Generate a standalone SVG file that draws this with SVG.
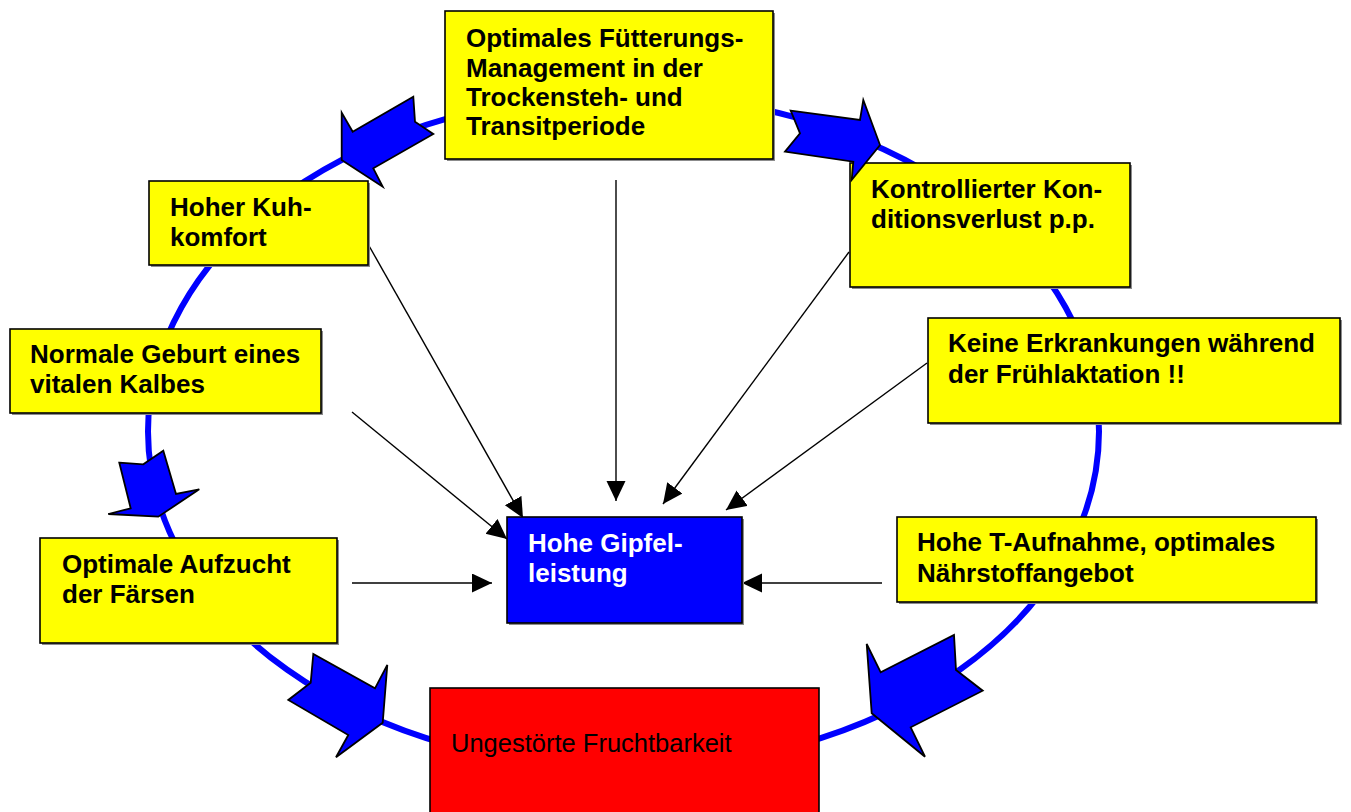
<svg xmlns="http://www.w3.org/2000/svg" width="1351" height="812" viewBox="0 0 1351 812">
<style>
.box{stroke:#000;stroke-width:1.6}
.sh{fill:#8c8c8c}
.y{fill:#FFFF00}
.t{font-family:"Liberation Sans",Arial,sans-serif;font-size:26px;font-weight:bold;fill:#000}
.tw{fill:#fff}
.tr{font-family:"Liberation Sans",Arial,sans-serif;font-size:25.5px;fill:#000}
.con{stroke:#000;stroke-width:1.4;fill:none;marker-end:url(#ah)}
.chev{fill:#0000FF;stroke:#000;stroke-width:1.8;stroke-linejoin:miter}
</style>
<defs>
<marker id="ah" markerUnits="userSpaceOnUse" markerWidth="21" markerHeight="20" refX="20" refY="9.5" orient="auto">
<path d="M0,0 L20,9.5 L0,19 z" fill="#000"/>
</marker>
</defs>
<rect width="1351" height="812" fill="#fff"/>
<g id="cycle">
<ellipse cx="623.5" cy="431.5" rx="475.5" ry="337" fill="none" stroke="#0000FF" stroke-width="6"/>
</g>
<g id="connectors">
<line class="con" x1="368" y1="244" x2="523" y2="518"/>
<line class="con" x1="352" y1="412" x2="507" y2="539"/>
<line class="con" x1="616" y1="180" x2="616" y2="501"/>
<line class="con" x1="849" y1="252" x2="663" y2="504"/>
<line class="con" x1="927" y1="363" x2="726" y2="510"/>
<line class="con" x1="352" y1="583" x2="492" y2="583"/>
<line class="con" x1="882" y1="583" x2="742" y2="583"/>
</g>
<g id="n-fuetterung">
<rect class="sh" x="447" y="13" width="328" height="148"/>
<rect class="box y" x="445" y="11" width="328" height="148"/>
<text class="t"><tspan x="466" y="47">Optimales Fütterungs-</tspan><tspan x="466" y="77">Management in der</tspan><tspan x="466" y="106">Trockensteh- und</tspan><tspan x="466" y="135">Transitperiode</tspan></text>
</g>
<g id="n-kuhkomfort">
<rect class="sh" x="151" y="183" width="219" height="84"/>
<rect class="box y" x="149" y="181" width="219" height="84"/>
<text class="t"><tspan x="170" y="216">Hoher Kuh-</tspan><tspan x="170" y="246">komfort</tspan></text>
</g>
<g id="n-geburt">
<rect class="sh" x="12" y="331" width="311" height="84"/>
<rect class="box y" x="10" y="329" width="311" height="84"/>
<text class="t"><tspan x="30" y="363">Normale Geburt eines</tspan><tspan x="30" y="393">vitalen Kalbes</tspan></text>
</g>
<g id="n-aufzucht">
<rect class="sh" x="42" y="540" width="297" height="105"/>
<rect class="box y" x="40" y="538" width="297" height="105"/>
<text class="t"><tspan x="62" y="573">Optimale Aufzucht</tspan><tspan x="62" y="603">der Färsen</tspan></text>
</g>
<g id="n-kondition">
<rect class="sh" x="852" y="165" width="280" height="124"/>
<rect class="box y" x="850" y="163" width="280" height="124"/>
<text class="t"><tspan x="871" y="198">Kontrollierter Kon-</tspan><tspan x="871" y="228">ditionsverlust p.p.</tspan></text>
</g>
<g id="n-erkrankungen">
<rect class="sh" x="930" y="320" width="412" height="105"/>
<rect class="box y" x="928" y="318" width="412" height="105"/>
<text class="t"><tspan x="948" y="352">Keine Erkrankungen während</tspan><tspan x="948" y="383">der Frühlaktation !!</tspan></text>
</g>
<g id="n-taufnahme">
<rect class="sh" x="899" y="519" width="419" height="85"/>
<rect class="box y" x="897" y="517" width="419" height="85"/>
<text class="t"><tspan x="917" y="551">Hohe T-Aufnahme, optimales</tspan><tspan x="917" y="582">Nährstoffangebot</tspan></text>
</g>
<g id="n-gipfel">
<rect class="sh" x="509" y="519" width="235" height="106"/>
<rect class="box" fill="#0000FF" x="507" y="517" width="235" height="106"/>
<text class="t tw"><tspan x="528" y="552">Hohe Gipfel-</tspan><tspan x="528" y="582">leistung</tspan></text>
</g>
<g id="n-fruchtbarkeit">
<rect class="box" fill="#FF0000" x="430" y="688" width="389" height="140"/>
<text class="tr" x="451" y="752">Ungestörte Fruchtbarkeit</text>
</g>
<g id="cycle-arrows">
<polygon class="chev" points="341.7,112.7 352.7,131.7 413.3,96.7 415,121.7 433.3,134 373.3,168.3 382.7,186.7 341.7,160"/>
<polygon class="chev" points="790.7,110.7 860,120 863.3,100 880,145 851.7,180 853.3,161.7 785,151.7 800,133.3"/>
<polygon class="chev" points="119.3,462.7 143.3,464.3 163.3,450.7 176,494 199.3,489.3 158.3,516.7 108.3,514 130.7,508.3"/>
<polygon class="chev" points="313.3,654 310.7,682.7 288.3,700 348.3,735 336,757.3 382.7,722.7 387.3,665 375,688.3"/>
<polygon class="chev" points="866.7,644 880.7,672.3 954,635 956,670 982.7,690.7 910.7,727.3 925,756.7 871.7,713.3"/>
</g>
</svg>
